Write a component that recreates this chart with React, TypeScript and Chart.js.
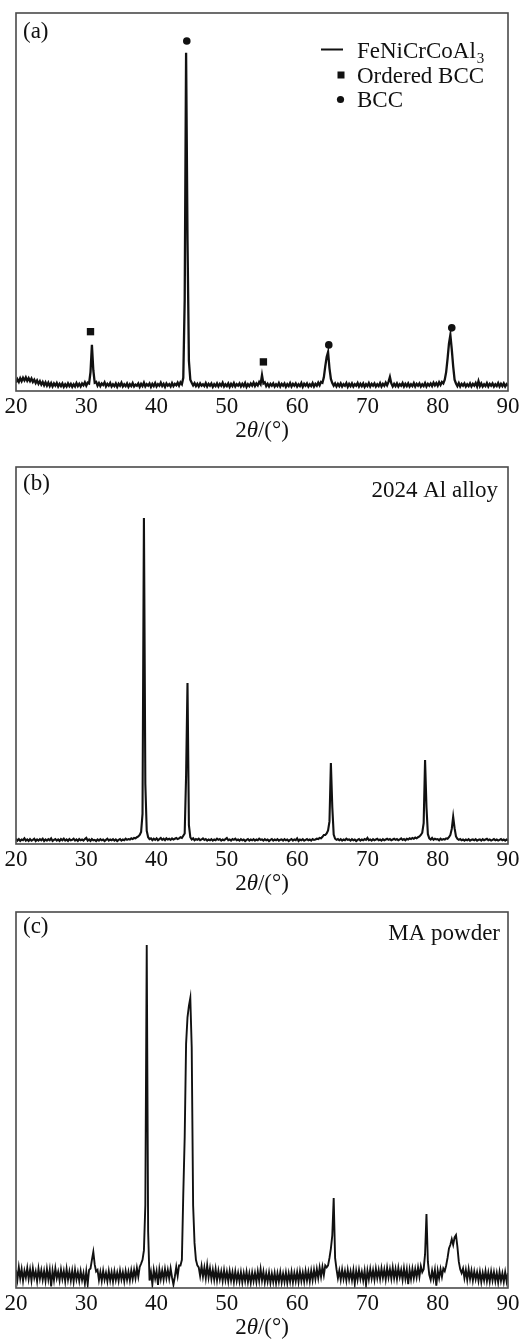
import React, { useEffect, useRef } from "react";
import { Chart, registerables } from "chart.js";

Chart.register(...registerables);

const FONT = '"Liberation Serif", "Times New Roman", Times, serif';
const TEXT_COLOR = "#111";

// Sampling grid of the diffractometer (2θ, degrees)
const ANGLE_MIN = 20;
const ANGLE_MAX = 90;
const ANGLE_STEP = 0.2;
const xTickValues = [20, 30, 40, 50, 60, 70, 80, 90];

// (a) FeNiCrCoAl3 – intensity (a.u., 0–100), one value per 0.2° from 20° to 90°
const intensityA = [
  2.2, 3.1, 2.4, 3.4, 2.6, 3.5, 2.8, 3.6, 2.7, 3.4,
  2.6, 3.3, 2.4, 3.0, 2.1, 2.8, 1.9, 2.6, 1.7, 2.4,
  1.5, 2.3, 1.4, 2.2, 1.3, 2.1, 1.2, 2.0, 1.4, 2.1,
  1.2, 1.9, 1.3, 2.0, 1.1, 1.8, 1.2, 2.0, 1.3, 1.9,
  1.1, 1.8, 1.2, 2.1, 1.3, 1.9, 1.2, 2.0, 1.5, 2.3,
  1.4, 2.2, 2.0, 5.0, 12.2, 5.5, 2.2, 2.4, 1.4, 2.1,
  1.3, 2.0, 1.6, 2.3, 1.2, 1.9, 1.4, 2.1, 1.2, 1.8,
  1.3, 2.0, 1.1, 1.9, 1.4, 2.2, 1.2, 1.8, 1.3, 2.0,
  1.1, 1.8, 1.3, 2.1, 1.2, 1.7, 1.4, 2.0, 1.1, 1.9,
  1.3, 2.2, 1.2, 1.8, 1.4, 2.0, 1.1, 1.9, 1.3, 2.1,
  1.2, 1.8, 1.4, 2.2, 1.3, 1.9, 1.1, 2.0, 1.4, 1.8,
  1.2, 2.1, 1.3, 1.9, 1.5, 2.2, 1.4, 2.3, 1.8, 3.5,
  24.0, 89.5, 40.0, 8.0, 3.0, 2.2, 1.5, 2.1, 1.3, 1.9,
  1.2, 2.0, 1.4, 1.8, 1.3, 2.1, 1.2, 1.9, 1.4, 2.0,
  1.1, 1.8, 1.3, 2.0, 1.2, 1.9, 1.4, 2.2, 1.2, 1.8,
  1.3, 2.0, 1.1, 1.9, 1.3, 2.1, 1.2, 1.8, 1.4, 2.0,
  1.2, 1.9, 1.3, 2.1, 1.1, 1.8, 1.3, 2.0, 1.4, 2.2,
  1.3, 2.0, 1.5, 2.4, 1.8, 4.2, 2.0, 2.3, 1.3, 1.9,
  1.2, 1.9, 1.4, 2.0, 1.2, 1.8, 1.3, 2.1, 1.2, 1.9,
  1.4, 2.0, 1.1, 1.8, 1.3, 2.1, 1.2, 1.9, 1.4, 2.0,
  1.2, 1.8, 1.3, 2.1, 1.1, 1.9, 1.4, 2.0, 1.2, 1.8,
  1.3, 2.1, 1.2, 1.9, 1.4, 2.2, 1.5, 2.4, 2.2, 3.6,
  6.5, 9.0, 10.3, 6.0, 3.2, 2.1, 1.4, 2.0, 1.2, 1.9,
  1.3, 2.0, 1.2, 1.8, 1.4, 2.1, 1.1, 1.9, 1.3, 2.0,
  1.2, 1.8, 1.4, 2.1, 1.2, 1.9, 1.3, 2.0, 1.1, 1.8,
  1.3, 2.1, 1.2, 1.9, 1.4, 2.0, 1.2, 1.8, 1.3, 2.1,
  1.2, 1.9, 1.4, 2.2, 1.5, 2.4, 3.7, 2.0, 1.2, 1.9,
  1.3, 2.0, 1.2, 1.8, 1.4, 2.1, 1.2, 1.9, 1.3, 2.0,
  1.2, 1.8, 1.3, 2.1, 1.2, 1.9, 1.4, 2.0, 1.2, 1.8,
  1.3, 2.1, 1.2, 1.9, 1.4, 2.0, 1.3, 2.2, 1.5, 2.1,
  1.4, 2.3, 1.6, 2.4, 2.0, 3.0, 5.0, 8.5, 12.5, 14.8,
  11.0, 6.5, 3.0, 2.0, 1.3, 2.1, 1.2, 1.9, 1.4, 2.0,
  1.2, 1.8, 1.3, 2.0, 1.2, 1.9, 1.4, 2.1, 1.2, 2.6,
  1.3, 2.0, 1.2, 1.8, 1.3, 2.1, 1.2, 1.9, 1.4, 2.0,
  1.2, 1.8, 1.3, 2.1, 1.2, 1.9, 1.3, 2.0, 1.2, 1.8,
  1.4,
];

// (b) 2024 Al alloy
const intensityB = [
  1.4, 0.9, 1.3, 0.8, 1.2, 1.0, 1.5, 0.9, 1.2, 0.8,
  1.3, 0.9, 1.1, 1.4, 0.8, 1.2, 0.9, 1.3, 1.0, 1.4,
  0.8, 1.2, 0.9, 1.3, 1.0, 1.5, 0.8, 1.1, 1.3, 0.9,
  1.2, 0.8, 1.3, 1.0, 1.4, 0.9, 1.2, 0.8, 1.3, 1.0,
  1.1, 1.4, 0.9, 1.2, 0.8, 1.3, 1.0, 1.2, 0.9, 1.3,
  1.6, 0.9, 1.2, 0.8, 1.3, 1.0, 1.1, 0.8, 1.2, 0.9,
  1.3, 1.0, 1.2, 0.8, 1.1, 1.4, 0.9, 1.2, 1.0, 1.3,
  0.9, 1.2, 0.8, 1.1, 1.3, 0.9, 1.2, 1.0, 1.4, 1.1,
  1.3, 1.2, 1.5, 1.3, 1.6, 1.5, 1.8, 2.0, 2.4, 3.2,
  8.0, 86.5, 16.0, 3.5, 1.8, 1.3, 1.5, 1.0, 1.4, 1.1,
  1.5, 1.0, 1.3, 1.6, 1.1, 1.4, 1.0, 1.5, 1.2, 1.4,
  1.1, 1.5, 1.2, 1.4, 1.6, 1.3, 1.5, 1.8, 1.6, 2.2,
  2.8, 18.0, 42.7, 5.0, 1.8, 1.2, 1.5, 1.0, 1.3, 1.1,
  1.4, 1.0, 1.2, 1.5, 1.1, 1.3, 0.9, 1.2, 1.0, 1.3,
  0.9, 1.2, 1.0, 1.4, 1.1, 1.3, 0.9, 1.2, 1.0, 1.3,
  1.6, 1.0, 1.2, 0.9, 1.3, 1.1, 1.4, 1.0, 1.2, 0.9,
  1.3, 1.0, 1.2, 0.8, 1.1, 1.3, 0.9, 1.2, 1.0, 1.3,
  0.9, 1.2, 1.0, 1.4, 1.1, 1.2, 0.9, 1.3, 1.0, 1.2,
  0.8, 1.1, 1.3, 0.9, 1.2, 1.0, 1.3, 0.9, 1.1, 1.2,
  0.9, 1.3, 1.0, 1.2, 0.8, 1.1, 1.3, 0.9, 1.2, 1.0,
  1.5, 0.8, 1.2, 1.0, 1.3, 0.9, 1.1, 1.3, 1.0, 1.2,
  0.9, 1.3, 1.1, 1.2, 1.4, 1.3, 1.6, 1.5, 1.9, 2.4,
  2.4, 2.8, 3.6, 6.0, 21.5, 9.8, 2.5, 1.4, 1.1, 1.3,
  1.0, 1.3, 0.9, 1.2, 1.0, 1.4, 1.1, 1.2, 0.9, 1.3,
  1.0, 1.2, 0.8, 1.1, 1.3, 0.9, 1.2, 1.0, 1.3, 1.1,
  1.6, 1.0, 1.2, 0.9, 1.3, 1.0, 1.2, 1.4, 1.0, 1.2,
  0.9, 1.3, 1.0, 1.2, 1.4, 1.1, 1.3, 1.0, 1.2, 1.4,
  1.1, 1.3, 1.0, 1.2, 1.5, 1.1, 1.3, 1.0, 1.4, 1.2,
  1.5, 1.3, 1.6, 1.4, 1.7, 1.5, 1.8, 2.0, 2.4, 3.0,
  5.5, 22.3, 9.8, 2.6, 1.5, 1.2, 1.6, 1.1, 1.4, 1.2,
  1.3, 1.0, 1.4, 1.1, 1.3, 1.2, 1.5, 1.4, 1.8, 2.4,
  4.0, 7.2, 4.2, 2.0, 1.4, 1.1, 1.3, 1.0, 1.2, 0.9,
  1.2, 1.0, 1.3, 0.9, 1.1, 1.2, 1.0, 1.3, 0.9, 1.1,
  1.2, 0.9, 1.3, 1.0, 1.2, 1.4, 1.0, 1.2, 0.9, 1.1,
  1.3, 1.0, 1.2, 0.9, 1.1, 1.3, 1.0, 1.2, 0.9, 1.2,
  1.0,
];

// (c) MA powder
const intensityC = [
  4.8, 2.2, 5.5, 2.6, 5.0, 1.9, 4.6, 2.8, 5.3, 2.4,
  4.9, 2.0, 5.2, 2.7, 4.4, 1.8, 5.1, 2.5, 4.7, 2.2,
  4.5, 1.9, 5.0, 2.3, 4.8, 0.4, 4.6, 2.1, 5.2, 2.6,
  4.3, 2.0, 4.9, 2.4, 4.5, 1.8, 5.0, 2.2, 4.4, 2.0,
  4.6, 1.7, 4.8, 2.3, 4.2, 1.9, 4.5, 2.1, 4.0, 1.2,
  4.4, 1.0, 4.8, 5.2, 7.5, 9.6, 6.2, 4.4, 4.8, 2.1,
  4.3, 1.9, 4.6, 2.2, 4.0, 1.8, 4.5, 2.0, 4.2, 1.7,
  4.4, 2.1, 4.1, 1.9, 4.6, 2.3, 4.2, 1.8, 4.5, 2.2,
  4.3, 2.0, 4.7, 2.4, 4.8, 2.6, 5.3, 3.0, 5.6, 6.5,
  7.5, 10.0, 22.0, 91.2, 15.0, 2.0, 4.2, 1.0, 4.8, 2.5,
  4.5, 0.8, 4.9, 2.4, 4.6, 2.2, 5.0, 2.6, 4.8, 2.5,
  5.2, 2.8, 0.9, 3.0, 5.6, 3.2, 6.0, 6.0, 7.5, 25.0,
  40.0, 65.0, 72.0, 75.0, 77.1, 64.0, 22.0, 12.0, 7.5, 6.0,
  5.5, 3.2, 5.8, 3.0, 5.4, 2.6, 6.0, 2.8, 5.2, 2.4,
  4.8, 2.2, 5.0, 2.0, 4.6, 2.3, 4.4, 1.9, 4.7, 2.1,
  4.3, 1.8, 4.5, 2.0, 4.2, 1.6, 4.4, 1.9, 4.0, 1.7,
  4.2, 1.5, 4.0, 1.8, 4.3, 1.6, 3.9, 1.4, 4.1, 1.8,
  4.0, 1.6, 4.4, 1.9, 5.0, 2.0, 4.3, 1.5, 3.9, 1.7,
  4.1, 1.4, 3.8, 1.6, 4.0, 1.3, 3.9, 1.7, 4.2, 1.5,
  3.8, 1.6, 4.1, 1.4, 3.9, 1.7, 4.3, 1.5, 4.0, 1.8,
  4.2, 1.6, 4.4, 1.9, 4.1, 1.7, 4.5, 2.0, 4.3, 1.8,
  4.6, 2.1, 4.8, 2.4, 5.0, 2.6, 5.4, 3.0, 5.6, 3.4,
  6.0, 5.5, 6.0, 8.0, 10.5, 14.0, 23.9, 8.0, 5.0, 2.6,
  4.6, 2.2, 4.9, 2.4, 4.5, 2.0, 4.8, 2.3, 4.4, 2.1,
  4.7, 1.2, 4.5, 2.2, 4.8, 2.4, 4.3, 2.0, 4.6, 0.9,
  4.6, 2.3, 5.0, 2.5, 4.7, 2.2, 5.1, 2.6, 4.8, 2.4,
  5.2, 2.7, 4.9, 2.3, 5.3, 2.8, 5.0, 2.5, 5.4, 2.6,
  5.0, 2.4, 5.3, 2.9, 4.8, 2.2, 5.2, 2.5, 4.9, 1.0,
  4.8, 2.4, 5.1, 2.6, 5.0, 2.8, 5.4, 3.0, 5.8, 4.2,
  5.0, 9.0, 19.7, 7.0, 3.5, 2.2, 4.6, 2.4, 4.8, 0.6,
  4.6, 2.6, 5.0, 3.0, 5.2, 4.5, 6.0, 8.0, 10.5, 11.5,
  13.0, 11.5, 13.5, 14.1, 11.0, 7.0, 5.0, 4.0, 5.2, 2.6,
  4.8, 2.2, 5.0, 2.4, 4.6, 2.0, 4.4, 2.3, 4.2, 1.9,
  4.3, 1.6, 4.0, 2.0, 4.5, 1.8, 4.1, 1.7, 4.4, 2.0,
  4.2, 1.8, 4.0, 1.5, 4.3, 1.9, 3.9, 1.6, 4.2, 1.8,
  4.0,
];

// Phase markers in panel (a)
const orderedBccAngles = [30.6, 55.2];
const orderedBccHeights = [15.7, 7.7];
const bccAngles = [44.3, 64.5, 82.0];
const bccHeights = [92.6, 12.2, 16.7];

const legendLabels = ["FeNiCrCoAl", "Ordered BCC", "BCC"];
const legendSubscript = "3";
const panelLabels = ["(a)", "(b)", "(c)"];
const sampleNames = ["", "2024 Al alloy", "MA powder"];
const xTitleParts = ["2", "θ", "/(°)"];

type Spec = {
  idx: number;
  values: number[];
  canvasTop: number;
  canvasHeight: number;
  plotTop: number;
  plotBottom: number;
  lineWidth: number;
  labelBaseline: number;
  nameBaseline: number;
  nameRight: number;
  markers: boolean;
};

const PLOT_LEFT = 16;
const PLOT_RIGHT = 508;
const WIDTH = 519;

const specs: Spec[] = [
  { idx: 0, values: intensityA, canvasTop: 0, canvasHeight: 447, plotTop: 13, plotBottom: 391, lineWidth: 2.3, labelBaseline: 38, nameBaseline: 0, nameRight: 0, markers: true },
  { idx: 1, values: intensityB, canvasTop: 447, canvasHeight: 450, plotTop: 467, plotBottom: 844, lineWidth: 2.1, labelBaseline: 490, nameBaseline: 497, nameRight: 498, markers: false },
  { idx: 2, values: intensityC, canvasTop: 897, canvasHeight: 443, plotTop: 912, plotBottom: 1288, lineWidth: 1.9, labelBaseline: 933, nameBaseline: 940, nameRight: 500, markers: false },
];

function makeDecor(spec: Spec) {
  return {
    id: "decor" + spec.idx,
    afterDraw(chart: any) {
      const ctx: CanvasRenderingContext2D = chart.ctx;
      const a = chart.chartArea;
      const off = spec.canvasTop;
      ctx.save();
      // frame
      ctx.strokeStyle = "#4a4a4a";
      ctx.lineWidth = 1.6;
      ctx.strokeRect(a.left, a.top, a.right - a.left, a.bottom - a.top);

      ctx.fillStyle = TEXT_COLOR;
      ctx.textBaseline = "alphabetic";
      ctx.textAlign = "left";
      ctx.font = `23px ${FONT}`;
      ctx.fillText(panelLabels[spec.idx], a.left + 7, spec.labelBaseline - off);

      if (sampleNames[spec.idx]) {
        ctx.textAlign = "right";
        ctx.fillText(sampleNames[spec.idx], spec.nameRight, spec.nameBaseline - off);
        ctx.textAlign = "left";
      }

      if (spec.markers) {
        // legend
        const tx = 357;
        ctx.strokeStyle = TEXT_COLOR;
        ctx.lineWidth = 2;
        ctx.beginPath();
        ctx.moveTo(321, 49.5);
        ctx.lineTo(343, 49.5);
        ctx.stroke();
        ctx.font = `23px ${FONT}`;
        ctx.fillText(legendLabels[0], tx, 58);
        const w = ctx.measureText(legendLabels[0]).width;
        ctx.font = `15px ${FONT}`;
        ctx.fillText(legendSubscript, tx + w + 1, 63);
        ctx.font = `23px ${FONT}`;
        ctx.fillRect(341 - 3.5, 75 - 3.5, 7, 7);
        ctx.fillText(legendLabels[1], tx, 83);
        ctx.beginPath();
        ctx.arc(340.5, 99.5, 3.6, 0, Math.PI * 2);
        ctx.fill();
        ctx.fillText(legendLabels[2], tx, 107);
      }

      // axis title 2θ/(°)
      const fonts = [`23px ${FONT}`, `italic 23px ${FONT}`, `23px ${FONT}`];
      let total = 0;
      const widths = xTitleParts.map((t, i) => {
        ctx.font = fonts[i];
        const m = ctx.measureText(t).width;
        total += m;
        return m;
      });
      let x = (a.left + a.right) / 2 - total / 2;
      const yb = spec.plotBottom + 46 - off;
      xTitleParts.forEach((t, i) => {
        ctx.font = fonts[i];
        ctx.fillText(t, x, yb);
        x += widths[i];
      });
      ctx.restore();
    },
  };
}

function Panel({ spec }: { spec: Spec }) {
  const ref = useRef<HTMLCanvasElement | null>(null);
  useEffect(() => {
    const canvas = ref.current;
    if (!canvas) return;
    const points = spec.values.map((v, i) => ({ x: ANGLE_MIN + i * ANGLE_STEP, y: v }));
    const datasets: any[] = [
      {
        data: points,
        borderColor: TEXT_COLOR,
        borderWidth: spec.lineWidth,
        pointRadius: 0,
        tension: 0,
        fill: false,
        borderJoinStyle: "miter",
      },
    ];
    if (spec.markers) {
      datasets.push({
        data: orderedBccAngles.map((x, i) => ({ x, y: orderedBccHeights[i] })),
        showLine: false,
        pointStyle: "rect",
        pointRadius: 5.2,
        backgroundColor: TEXT_COLOR,
        borderColor: TEXT_COLOR,
        borderWidth: 0,
      });
      datasets.push({
        data: bccAngles.map((x, i) => ({ x, y: bccHeights[i] })),
        showLine: false,
        pointStyle: "circle",
        pointRadius: 3.8,
        backgroundColor: TEXT_COLOR,
        borderColor: TEXT_COLOR,
        borderWidth: 0,
      });
    }
    const axisHeight = spec.canvasTop + spec.canvasHeight - spec.plotBottom;
    const chart = new Chart(canvas, {
      type: "line",
      data: { datasets },
      options: {
        animation: false,
        responsive: false,
        maintainAspectRatio: false,
        events: [],
        layout: {
          padding: { left: PLOT_LEFT, right: WIDTH - PLOT_RIGHT, top: spec.plotTop - spec.canvasTop, bottom: 0 },
        },
        plugins: { legend: { display: false }, tooltip: { enabled: false }, title: { display: false } },
        scales: {
          x: {
            type: "linear",
            min: ANGLE_MIN,
            max: ANGLE_MAX,
            afterBuildTicks: (s: any) => {
              s.ticks = xTickValues.map((v) => ({ value: v }));
            },
            grid: { display: false, drawTicks: false },
            border: { display: false },
            ticks: {
              font: { family: FONT, size: 23 },
              color: TEXT_COLOR,
              padding: 2,
              maxRotation: 0,
              autoSkip: false,
            },
            afterFit: (s: any) => {
              s.height = axisHeight;
              s.paddingLeft = 0;
              s.paddingRight = 0;
            },
          },
          y: { display: false, min: 0, max: 100 },
        },
      } as any,
      plugins: [makeDecor(spec)],
    });
    return () => chart.destroy();
  }, [spec]);
  return (
    <canvas
      ref={ref}
      width={WIDTH}
      height={spec.canvasHeight}
      style={{ position: "absolute", left: 0, top: spec.canvasTop, width: WIDTH, height: spec.canvasHeight, display: "block" }}
    />
  );
}

export default function App() {
  return (
    <div style={{ position: "absolute", left: 0, top: 0, width: WIDTH, height: 1340, background: "#fff" }}>
      {specs.map((s) => (
        <Panel key={s.idx} spec={s} />
      ))}
    </div>
  );
}
